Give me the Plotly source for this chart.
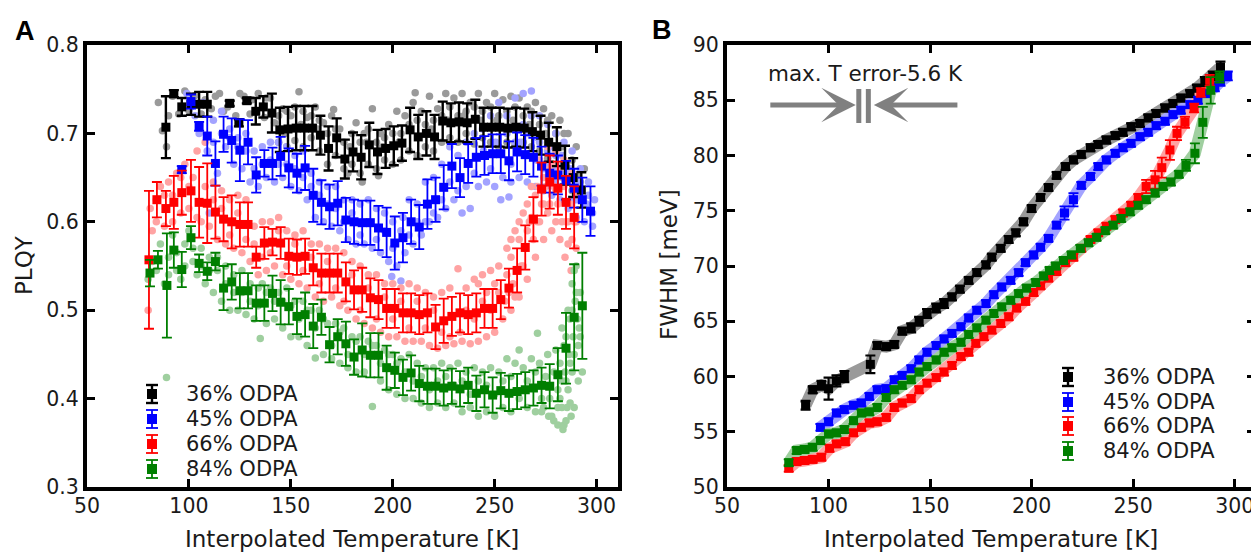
import plotly.graph_objects as go

# ---------------- Panel A : PLQY (binned means) ----------------
A36_T = [88.7, 92.6, 96.5, 101, 105, 109, 120, 124.5, 128.4, 132.8,
         136.5, 140.7, 144.6, 148.6, 152.6, 156.6, 160.6, 164.5, 168.5, 172.5,
         176.5, 180.5, 184.5, 188.5, 192.5, 196.5, 200.5, 204.5, 208.5, 212.5,
         216.5, 220.5, 224.5, 228.5, 232.5, 236.5, 240.5, 244.5, 248.5, 252.5,
         256.5, 260.5, 264.5, 268.5, 272.5, 276.5, 280.5, 284.5, 288.5, 292.5]
A36_y = [0.707, 0.745, 0.730, 0.733, 0.733, 0.733, 0.734, 0.712, 0.737, 0.725,
         0.730, 0.723, 0.704, 0.705, 0.706, 0.706, 0.706, 0.698, 0.683, 0.695,
         0.671, 0.679, 0.673, 0.687, 0.679, 0.683, 0.686, 0.689, 0.704, 0.696,
         0.700, 0.696, 0.714, 0.712, 0.713, 0.712, 0.716, 0.707, 0.707, 0.707,
         0.706, 0.707, 0.706, 0.702, 0.698, 0.690, 0.685, 0.664, 0.650, 0.636]
A36_e = [0.035, 0.004, 0.010, 0.012, 0.014, 0.014, 0.003, 0.004, 0.003, 0.015,
         0.012, 0.022, 0.025, 0.025, 0.025, 0.025, 0.025, 0.022, 0.025, 0.022,
         0.022, 0.022, 0.025, 0.025, 0.025, 0.022, 0.022, 0.020, 0.025, 0.025,
         0.025, 0.025, 0.022, 0.022, 0.022, 0.022, 0.022, 0.022, 0.022, 0.022,
         0.022, 0.022, 0.022, 0.022, 0.022, 0.022, 0.022, 0.022, 0.022, 0.020]

A45_T = [96.5, 101, 105, 109, 113, 117, 121, 125, 129, 133,
         137, 141, 145, 149, 153, 157, 161, 165, 169, 173,
         177, 181, 185, 189, 193, 197, 201, 205, 209, 213,
         217, 221, 225, 229, 233, 237, 241, 245, 249, 253,
         257, 261, 265, 269, 273, 277, 281, 285, 289, 293, 297]
A45_y = [0.659, 0.736, 0.708, 0.697, 0.666, 0.699, 0.692, 0.681, 0.690, 0.653,
         0.666, 0.666, 0.674, 0.661, 0.655, 0.661, 0.630, 0.622, 0.617, 0.621,
         0.602, 0.600, 0.599, 0.599, 0.593, 0.588, 0.576, 0.582, 0.600, 0.594,
         0.620, 0.625, 0.639, 0.663, 0.650, 0.666, 0.673, 0.675, 0.677, 0.677,
         0.669, 0.679, 0.676, 0.673, 0.663, 0.655, 0.653, 0.647, 0.638, 0.625, 0.612]
A45_e = [0.004, 0.008, 0.005, 0.022, 0.025, 0.020, 0.025, 0.035, 0.025, 0.020,
         0.015, 0.018, 0.022, 0.022, 0.022, 0.025, 0.030, 0.025, 0.025, 0.025,
         0.025, 0.025, 0.025, 0.025, 0.025, 0.028, 0.030, 0.028, 0.025, 0.025,
         0.028, 0.025, 0.025, 0.025, 0.022, 0.022, 0.022, 0.022, 0.022, 0.022,
         0.022, 0.022, 0.022, 0.022, 0.022, 0.022, 0.022, 0.022, 0.022, 0.025, 0.028]

A66_T = [80.4, 84.3, 88.7, 92.6, 96.5, 101, 105, 109, 113, 117,
         121, 125, 129, 133, 137, 141, 145, 149, 153, 157,
         161, 165, 169, 173, 177, 181, 185, 189, 193, 197,
         201, 205, 209, 213, 217, 221, 225, 229, 233, 237,
         241, 245, 249, 253, 257, 261, 265, 269, 273, 277,
         281, 285, 289]
A66_y = [0.557, 0.625, 0.615, 0.622, 0.633, 0.635, 0.622, 0.621, 0.611, 0.603,
         0.600, 0.597, 0.597, 0.560, 0.576, 0.577, 0.576, 0.561, 0.560, 0.561,
         0.548, 0.542, 0.542, 0.542, 0.532, 0.523, 0.523, 0.514, 0.512, 0.502,
         0.502, 0.497, 0.497, 0.495, 0.497, 0.481, 0.488, 0.493, 0.497, 0.495,
         0.497, 0.502, 0.502, 0.512, 0.525, 0.545, 0.571, 0.603, 0.637, 0.645,
         0.638, 0.622, 0.605]
A66_e = [0.078, 0.020, 0.020, 0.030, 0.025, 0.035, 0.040, 0.045, 0.030, 0.025,
         0.030, 0.025, 0.025, 0.012, 0.018, 0.015, 0.018, 0.020, 0.020, 0.020,
         0.020, 0.022, 0.022, 0.022, 0.022, 0.022, 0.025, 0.022, 0.022, 0.022,
         0.022, 0.022, 0.022, 0.022, 0.022, 0.025, 0.025, 0.022, 0.022, 0.022,
         0.022, 0.022, 0.022, 0.022, 0.022, 0.025, 0.025, 0.025, 0.030, 0.030,
         0.030, 0.030, 0.035]

A84_T = [80.9, 84.8, 89.2, 92.6, 96.5, 101, 105, 109, 113, 117,
         121, 125, 129, 133, 137, 141, 145, 149, 153, 157,
         161, 165, 169, 173, 177, 181, 185, 189, 193, 197,
         201, 205, 209, 213, 217, 221, 225, 229, 233, 237,
         241, 245, 249, 253, 257, 261, 265, 269, 273, 277,
         281, 285, 289, 293]
A84_y = [0.542, 0.557, 0.528, 0.568, 0.546, 0.582, 0.553, 0.544, 0.555, 0.525,
         0.532, 0.522, 0.522, 0.508, 0.508, 0.519, 0.509, 0.504, 0.493, 0.495,
         0.482, 0.492, 0.461, 0.470, 0.462, 0.447, 0.455, 0.449, 0.449, 0.435,
         0.432, 0.424, 0.429, 0.417, 0.414, 0.414, 0.412, 0.414, 0.411, 0.415,
         0.406, 0.410, 0.404, 0.409, 0.406, 0.408, 0.410, 0.412, 0.415, 0.414,
         0.427, 0.457, 0.492, 0.505]
A84_e = [0.015, 0.010, 0.059, 0.020, 0.020, 0.013, 0.010, 0.010, 0.010, 0.025,
         0.020, 0.020, 0.020, 0.020, 0.020, 0.020, 0.025, 0.020, 0.020, 0.025,
         0.025, 0.020, 0.020, 0.020, 0.025, 0.020, 0.030, 0.025, 0.025, 0.025,
         0.020, 0.020, 0.020, 0.020, 0.020, 0.020, 0.020, 0.020, 0.020, 0.020,
         0.020, 0.020, 0.020, 0.020, 0.020, 0.020, 0.020, 0.020, 0.020, 0.025,
         0.030, 0.040, 0.060, 0.060]

# ---------------- Panel A : raw (unbinned) points, (T, PLQY) ----------------
RAW36 = [(85,0.735),(87,0.703),(89,0.685),(90,0.72),(92,0.742),(95,0.722),(98,0.748),(100,0.726),
         (103,0.743),(106,0.722),(108,0.738),(111,0.728),(113,0.742),(115,0.745),(117,0.725),(119,0.73),
         (123,0.72),(125,0.745),(127,0.742),(130,0.722),(131,0.738),(134,0.745),(137,0.718),(138,0.74),
         (140,0.74),(142,0.712),(144,0.69),(146,0.728),(147,0.70),(148,0.685),(150,0.72),(152,0.692),
         (154,0.747),(155,0.71),(156,0.685),(158,0.718),(160,0.695),(162,0.73),(163,0.705),(164,0.68),
         (166,0.712),(168,0.665),(170,0.72),(171,0.727),(172,0.675),(174,0.705),(176,0.66),(178,0.655),
         (179,0.685),(180,0.665),(182,0.712),(184,0.655),(185,0.645),(186,0.70),(187,0.69),(188,0.665),
         (190,0.728),(192,0.66),(193,0.652),(194,0.70),(195,0.685),(196,0.67),(198,0.71),(200,0.665),
         (202,0.725),(203,0.69),(204,0.67),(206,0.72),(208,0.68),(210,0.735),(211,0.746),(212,0.675),
         (214,0.725),(216,0.685),(218,0.742),(219,0.705),(220,0.68),(222,0.728),(224,0.69),(226,0.745),
         (227,0.715),(228,0.695),(230,0.74),(232,0.69),(234,0.745),(235,0.72),(236,0.70),(238,0.735),
         (240,0.688),(242,0.745),(243,0.715),(244,0.695),(246,0.735),(248,0.69),(250,0.745),(251,0.715),
         (252,0.685),(254,0.738),(256,0.69),(258,0.742),(259,0.715),(260,0.688),(262,0.74),(264,0.69),
         (266,0.73),(267,0.71),(268,0.685),(270,0.735),(272,0.68),(274,0.728),(275,0.70),(276,0.672),
         (278,0.72),(280,0.665),(282,0.715),(283,0.685),(284,0.65),(286,0.70),(288,0.635),(290,0.685),
         (291,0.65),(292,0.625),(294,0.66),
         (232,0.72),(236,0.725),(240,0.73),(244,0.725),(248,0.73),(252,0.72),(256,0.725),(260,0.73),
         (264,0.72),(268,0.725),(272,0.71),(276,0.715),(280,0.70),(284,0.70),(288,0.67),(292,0.645),
         (228,0.73),(224,0.72),(220,0.715),(216,0.71),(212,0.715),(208,0.71),(204,0.70),(200,0.70),
         (196,0.695),(192,0.69),(188,0.705),(184,0.69),(180,0.70),(176,0.69),(172,0.705),(168,0.70),
         (164,0.715),(160,0.72),(156,0.725),(152,0.73),(148,0.725),(144,0.72)]
RAW45 = [(95,0.655),(99,0.745),(101,0.73),(103,0.72),(105,0.70),(107,0.735),(109,0.68),(110,0.61),
         (112,0.715),(114,0.655),(116,0.725),(118,0.685),(120,0.705),(122,0.665),(124,0.695),(126,0.66),
         (128,0.70),(130,0.645),(132,0.68),(134,0.64),(136,0.685),(138,0.65),(140,0.69),(142,0.645),
         (144,0.69),(146,0.65),(148,0.685),(150,0.64),(152,0.675),(154,0.635),(156,0.68),(158,0.625),
         (160,0.655),(162,0.605),(164,0.645),(166,0.60),(168,0.64),(170,0.595),(172,0.64),(174,0.59),
         (176,0.625),(178,0.58),(180,0.625),(182,0.575),(184,0.62),(186,0.575),(188,0.625),(190,0.57),
         (192,0.615),(194,0.565),(196,0.61),(198,0.555),(199.5,0.538),(200,0.60),(202,0.55),(204,0.533),
         (205,0.605),(206,0.565),(208,0.625),(210,0.575),(212,0.62),(214,0.585),(216,0.645),(218,0.60),
         (220,0.65),(222,0.605),(224,0.665),(226,0.615),(228,0.685),(230,0.625),(232,0.675),(234,0.61),
         (236,0.69),(238,0.615),(240,0.70),(242,0.64),(244,0.705),(244.5,0.68),(246,0.645),(248,0.72),
         (250,0.64),(250.5,0.69),(252,0.735),(253,0.625),(254,0.65),(256,0.72),(257,0.628),(258,0.645),
         (260,0.74),(262,0.65),(262.5,0.69),(264,0.745),(266,0.645),(266.5,0.70),(268,0.748),(270,0.64),
         (270.5,0.67),(271,0.695),(272,0.72),(274,0.635),(275,0.665),(276,0.71),(277,0.685),(278,0.63),
         (279,0.645),(280,0.70),(280.5,0.66),(282,0.625),(283,0.675),(284,0.69),(285,0.655),(286,0.615),
         (287,0.66),(288,0.68),(289,0.625),(290,0.605),(290.5,0.64),(291,0.645),(292,0.66),(294,0.60),
         (295,0.62),(296,0.645),(298,0.595),(299,0.625),
         (256,0.70),(260,0.69),(264,0.71),(268,0.72),(272,0.69),(276,0.68),(280,0.675),(284,0.665),
         (288,0.65),(292,0.64),(296,0.63),(258,0.665),(266,0.675),(274,0.66),(282,0.64),(290,0.625),
         (298,0.61),(248,0.66),(240,0.655),(236,0.64),(232,0.635),(228,0.645),(224,0.625),(220,0.61),
         (216,0.60),(212,0.60),(208,0.585),(204,0.59),(200,0.57),(196,0.59),(192,0.58),(188,0.60),
         (184,0.585),(180,0.61),(176,0.60),(172,0.615),(168,0.62),(164,0.63),(160,0.64),(156,0.65),
         (152,0.66),(148,0.665),(144,0.665),(140,0.67),(136,0.665),(132,0.66),(128,0.68),(124,0.685),
         (120,0.695),(116,0.70),(112,0.69)]
RAW66 = [(80,0.50),(82,0.59),(84,0.60),(86,0.64),(88,0.595),(90,0.645),(92,0.60),(94,0.655),
         (96,0.61),(98,0.665),(100,0.615),(102,0.65),(104,0.68),(106,0.60),(108,0.69),(110,0.595),
         (112,0.645),(114,0.58),(116,0.635),(118,0.575),(120,0.625),(122,0.57),(124,0.63),(126,0.565),
         (128,0.625),(130,0.555),(132,0.595),(134,0.54),(136,0.60),(138,0.545),(140,0.60),(142,0.55),
         (144,0.605),(146,0.54),(148,0.59),(150,0.535),(152,0.585),(154,0.53),(156,0.59),(158,0.525),
         (160,0.575),(162,0.515),(164,0.575),(166,0.51),(168,0.57),(170,0.515),(172,0.57),(174,0.505),
         (176,0.565),(178,0.50),(180,0.555),(182,0.49),(184,0.55),(186,0.485),(188,0.54),(190,0.48),
         (192,0.54),(194,0.475),(196,0.53),(198,0.47),(200,0.53),(202,0.47),(204,0.525),(206,0.465),
         (208,0.53),(210,0.465),(212,0.525),(214,0.465),(216,0.52),(218,0.46),(220,0.515),(222,0.457),
         (224,0.52),(226,0.46),(228,0.525),(230,0.462),(232,0.547),(234,0.465),(236,0.525),(238,0.462),
         (240,0.535),(242,0.465),(244,0.54),(246,0.47),(248,0.545),(250,0.475),(252,0.55),(254,0.49),
         (255,0.51),(256,0.57),(257,0.52),(258,0.50),(259,0.53),(260,0.59),(261,0.545),(262,0.515),
         (263,0.55),(264,0.61),(265,0.57),(266,0.535),(267,0.60),(268,0.64),(269,0.58),(270,0.56),
         (271,0.60),(272,0.67),(273,0.62),(274,0.58),(275,0.64),(276,0.685),(277,0.62),(278,0.59),
         (279,0.64),(280,0.68),(281,0.62),(282,0.58),(283,0.65),(284,0.67),(285,0.60),(286,0.575),
         (287,0.62),(288,0.655),(289,0.60),(290,0.57),(291,0.63),(287.5,0.545),(284.5,0.56),
         (256,0.54),(258,0.56),(260,0.515),(262,0.58),(264,0.55),(266,0.59),(268,0.605),(270,0.63),
         (272,0.60),(274,0.65),(276,0.61),(278,0.665),(280,0.635),(282,0.66),(284,0.64),(286,0.645),
         (288,0.58),(290,0.60),(286,0.60),(283,0.60),(280,0.60),(277,0.66),(274,0.62),(271,0.64),
         (266,0.62),(262,0.60),(258,0.58),(252,0.52),(250,0.53),(248,0.50),(246,0.52),(244,0.51),
         (242,0.53),(240,0.49),(236,0.50),(233,0.475),(228,0.47),(224,0.475),(220,0.50),(216,0.48),
         (212,0.51),(208,0.48),(204,0.51),(200,0.49),(196,0.515),(192,0.49),(188,0.525),(184,0.50),
         (180,0.54),(176,0.51),(172,0.525),(168,0.555),(164,0.53),(160,0.56),(156,0.545),(152,0.575),
         (148,0.55),(144,0.59),(140,0.565),(136,0.56),(132,0.575),(128,0.58),(124,0.61),(120,0.585),
         (116,0.615),(112,0.625),(108,0.64),(104,0.605),(100,0.64),(96,0.65),(92,0.63),(88,0.63),
         (84,0.625),(81,0.615)]
RAW84 = [(80,0.535),(82,0.555),(84,0.545),(86,0.575),(88,0.53),(89,0.424),(90,0.56),(92,0.585),
         (94,0.545),(96,0.535),(98,0.575),(100,0.59),(102,0.555),(104,0.54),(106,0.57),(108,0.53),
         (110,0.56),(112,0.52),(114,0.545),(116,0.51),(118,0.55),(120,0.50),(122,0.54),(124,0.50),
         (126,0.545),(128,0.495),(130,0.53),(132,0.49),(134,0.525),(135,0.468),(136,0.53),(138,0.485),
         (140,0.525),(142,0.49),(144,0.52),(146,0.48),(148,0.525),(150,0.47),(152,0.51),(154,0.47),
         (156,0.51),(158,0.46),(160,0.50),(162,0.446),(164,0.50),(166,0.45),(168,0.485),(170,0.445),
         (172,0.485),(174,0.44),(176,0.48),(178,0.435),(180,0.47),(182,0.43),(184,0.47),(186,0.43),
         (188,0.465),(190,0.391),(192,0.46),(194,0.42),(196,0.455),(198,0.41),(200,0.45),(202,0.405),
         (204,0.445),(206,0.40),(208,0.45),(210,0.40),(212,0.44),(214,0.395),(216,0.435),(218,0.39),
         (220,0.435),(222,0.395),(224,0.44),(226,0.39),(228,0.435),(230,0.395),(232,0.44),(234,0.385),
         (236,0.43),(238,0.39),(240,0.435),(242,0.38),(244,0.43),(246,0.385),(248,0.435),(250,0.38),
         (252,0.43),(254,0.39),(256,0.445),(258,0.385),(260,0.44),(262,0.455),(264,0.435),(266,0.39),
         (268,0.445),(270,0.385),(271,0.474),(272,0.44),(273,0.385),(274,0.39),(276,0.45),(276.5,0.38),
         (278,0.38),(279,0.375),(280,0.455),(281,0.37),(282,0.40),(283,0.48),(283.5,0.365),(284,0.37),
         (284.5,0.43),(285,0.42),(285.5,0.39),(286,0.50),(286.5,0.45),(287,0.44),(287.5,0.38),(288,0.53),
         (288.5,0.47),(289,0.39),(289.5,0.51),(290,0.55),(290.5,0.49),(291,0.46),(291.5,0.48),(292,0.52),
         (293,0.43),
         (281,0.41),(282,0.44),(283,0.42),(284,0.46),(285,0.47),(286,0.41),(287,0.49),(288,0.43),
         (289,0.45),(290,0.52),(291,0.42),(292,0.47),(289,0.545),(288,0.50),(287,0.395),(285,0.375),
         (283,0.39),(281,0.39),(279,0.43),(277,0.40),(275,0.425),(273,0.40),(270,0.43),(266,0.42),
         (262,0.40),(258,0.425),(254,0.42),(250,0.405),(246,0.415),(242,0.42),(238,0.405),(234,0.42),
         (230,0.415),(226,0.425),(222,0.42),(218,0.41),(214,0.425),(210,0.42),(206,0.43),(202,0.44),
         (198,0.45),(194,0.44),(190,0.46),(186,0.45),(182,0.465),(178,0.45),(174,0.475),(170,0.46),
         (166,0.49),(162,0.48),(158,0.50),(154,0.49),(150,0.505),(146,0.51),(142,0.51),(138,0.52),
         (134,0.505),(130,0.51),(126,0.52),(122,0.52),(118,0.53),(114,0.56),(110,0.545),(106,0.55),
         (102,0.57),(98,0.55),(94,0.565),(90,0.54)]

# ---------------- Panel B : FWHM (binned means) ----------------
B36_T = [88.7, 92.2, 96.5, 100, 103.9, 107.8, 120.6, 124, 128.4, 132.4,
         136.3, 140.7, 144.6, 148.5, 153, 156.9, 160.8, 164.7, 169, 173,
         177.5, 180.4, 184.8, 188.7, 192.2, 196, 200, 204.4, 208.3, 212.3,
         216.7, 220.6, 224.5, 229, 232.8, 236.8, 241.2, 245, 249, 253.4,
         257.4, 261.3, 265.7, 269.6, 273.5, 278, 281.4, 285.3, 289.2, 293]
B36_y = [57.4, 58.8, 59.2, 58.9, 59.6, 60.0, 61.1, 62.8, 62.7, 62.9,
         64.1, 64.4, 65.0, 65.7, 66.2, 66.6, 67.2, 67.9, 68.7, 69.4,
         70.1, 70.8, 71.6, 72.4, 73.0, 74.0, 75.2, 76.2, 77.1, 78.2,
         79.0, 79.6, 80.1, 80.7, 81.0, 81.4, 81.8, 82.1, 82.6, 82.9,
         83.4, 83.8, 84.3, 84.7, 85.2, 85.6, 86.1, 86.7, 87.2, 88.0]
B36_e = [0.4, 0.3, 0.4, 1.0, 0.5, 0.5, 0.8, 0.3, 0.3, 0.3,
         0.3, 0.4, 0.4, 0.4, 0.4, 0.4, 0.3, 0.3, 0.3, 0.3,
         0.3, 0.3, 0.3, 0.3, 0.3, 0.3, 0.3, 0.3, 0.3, 0.3,
         0.3, 0.3, 0.3, 0.3, 0.3, 0.3, 0.3, 0.3, 0.3, 0.3,
         0.3, 0.3, 0.3, 0.3, 0.3, 0.3, 0.3, 0.4, 0.4, 0.5]

B45_T = [96, 100, 103.9, 107.8, 112.3, 116.2, 120.1, 124, 128.4, 132.4,
         136.3, 140.7, 144.6, 148.5, 153, 156.9, 160.8, 165.2, 169, 173,
         177.5, 181.4, 185.3, 189.7, 193.6, 197, 201, 204.4, 208.3, 212.3,
         216.2, 220.6, 224.5, 229, 232.8, 236.8, 241.2, 245, 249, 253.4,
         257.4, 261.3, 265.7, 269.6, 273.5, 278, 281.9, 285.8, 290.2, 293, 296.6]
B45_y = [55.4, 55.9, 56.7, 57.0, 57.4, 57.6, 58.2, 58.8, 58.9, 59.7,
         60.1, 60.7, 61.5, 62.2, 62.8, 63.4, 63.9, 64.5, 65.3, 66.0,
         66.6, 67.4, 68.1, 68.7, 69.4, 70.3, 71.0, 71.7, 72.5, 73.7,
         74.8, 76.0, 77.3, 78.1, 79.0, 79.6, 80.2, 80.7, 81.1, 81.7,
         82.1, 82.7, 83.1, 83.7, 84.1, 84.6, 85.0, 85.6, 86.2, 86.7, 87.2]
B45_e = [0.3, 0.3, 0.3, 0.3, 0.3, 0.3, 0.3, 0.3, 0.3, 0.3,
         0.3, 0.3, 0.3, 0.3, 0.3, 0.3, 0.3, 0.3, 0.3, 0.3,
         0.3, 0.3, 0.3, 0.3, 0.3, 0.3, 0.3, 0.3, 0.3, 0.3,
         0.6, 0.6, 0.3, 0.3, 0.3, 0.3, 0.3, 0.3, 0.3, 0.3,
         0.3, 0.3, 0.3, 0.3, 0.3, 0.3, 0.3, 0.3, 0.4, 0.4, 0.4]

B66_T = [80.4, 84.3, 88.2, 92.2, 96.5, 100.5, 103.9, 108.3, 112.3, 116.2,
         120.1, 124, 128.4, 132.4, 136.3, 140.7, 144.6, 148.5, 153, 156.9,
         160.8, 165.2, 169, 172.5, 176.5, 180.4, 184.8, 188.7, 192.6, 197,
         201, 204.4, 208.3, 212.3, 216.7, 220.6, 224.5, 229, 232.8, 236.8,
         241.2, 245, 249, 252.5, 256.4, 260.8, 264.1, 268.1, 271.6, 275.5,
         280, 283.3, 287.7]
B66_y = [51.7, 52.3, 52.4, 52.5, 52.7, 53.5, 53.9, 54.1, 54.9, 55.4,
         55.8, 55.9, 56.3, 57.2, 57.6, 58.0, 58.8, 59.4, 59.9, 60.4,
         61.0, 61.8, 62.2, 63.0, 63.6, 64.2, 64.8, 65.4, 66.2, 66.8,
         67.6, 68.2, 68.9, 69.5, 70.3, 70.8, 71.6, 72.4, 73.0, 73.6,
         74.2, 74.8, 75.5, 76.2, 77.2, 77.8, 78.9, 80.5, 82.0, 83.0,
         84.3, 85.7, 86.8]
B66_e = [0.3, 0.3, 0.3, 0.3, 0.3, 0.3, 0.3, 0.3, 0.3, 0.3,
         0.3, 0.3, 0.3, 0.3, 0.3, 0.3, 0.3, 0.3, 0.3, 0.3,
         0.3, 0.3, 0.3, 0.3, 0.3, 0.3, 0.3, 0.3, 0.3, 0.3,
         0.3, 0.3, 0.3, 0.3, 0.3, 0.3, 0.3, 0.3, 0.3, 0.3,
         0.3, 0.3, 0.3, 0.3, 0.6, 0.8, 0.9, 0.9, 0.6, 0.5,
         0.4, 0.4, 0.5]

B84_T = [80.4, 84.3, 88.2, 92.2, 96, 100, 103.9, 107.8, 112.3, 116.2,
         120.1, 124, 128.4, 132.4, 136.3, 140.7, 144.6, 148.5, 153, 156.9,
         160.8, 165.2, 169, 173, 177.5, 181.4, 185.3, 189.7, 193.6, 197.5,
         202, 205.9, 208.8, 211.8, 215.7, 219.6, 224, 228, 232, 236.3,
         240.2, 244.1, 248.5, 252.5, 256.4, 260.8, 264.7, 268.6, 272.5, 276,
         280.4, 284.3, 288.2, 292.6]
B84_y = [52.2, 53.3, 53.4, 53.6, 54.2, 54.8, 54.9, 55.2, 56.0, 56.7,
         56.8, 57.2, 58.1, 58.8, 59.2, 59.7, 60.4, 60.9, 61.5, 62.2,
         62.6, 63.1, 63.8, 64.4, 65.1, 65.7, 66.3, 66.9, 67.5, 68.0,
         68.5, 69.1, 69.6, 70.0, 70.5, 71.0, 71.6, 72.1, 72.6, 73.2,
         73.7, 74.3, 74.9, 75.5, 76.0, 76.6, 77.2, 77.6, 78.3, 79.1,
         80.2, 83.0, 85.9, 87.1]
B84_e = [0.3, 0.3, 0.3, 0.3, 0.3, 0.3, 0.3, 0.3, 0.3, 0.3,
         0.3, 0.3, 0.3, 0.3, 0.3, 0.3, 0.3, 0.3, 0.3, 0.3,
         0.3, 0.3, 0.3, 0.3, 0.3, 0.3, 0.3, 0.3, 0.3, 0.3,
         0.3, 0.3, 0.3, 0.3, 0.3, 0.3, 0.3, 0.3, 0.3, 0.3,
         0.3, 0.3, 0.3, 0.3, 0.3, 0.3, 0.3, 0.3, 0.3, 0.5,
         0.9, 1.4, 1.2, 0.5]

LABELS = ["36% ODPA", "45% ODPA", "66% ODPA", "84% ODPA"]
X_TICKS = [50, 100, 150, 200, 250, 300]

for a, b in [(A36_T, A36_y), (A36_T, A36_e), (A45_T, A45_y), (A45_T, A45_e),
             (A66_T, A66_y), (A66_T, A66_e), (A84_T, A84_y), (A84_T, A84_e),
             (B36_T, B36_y), (B36_T, B36_e), (B45_T, B45_y), (B45_T, B45_e),
             (B66_T, B66_y), (B66_T, B66_e), (B84_T, B84_y), (B84_T, B84_e)]:
    assert len(a) == len(b), (len(a), len(b))

# ---------------- styling ----------------
DARK = ["#000000", "#0000ff", "#ff0000", "#007f00"]
LIGHT = ["#9a9a9a", "#a3a3ff", "#ffa3a3", "#9fcf9f"]
FONT = "DejaVu Sans"

# the page body adds an 8 px offset; the figure is sized so the window is filled exactly
OFF = 8
W, H = 1259 - OFF, 552 - OFF
ML, MR, MT, MB = 87 - OFF, 4, 45 - OFF, 65
PW, PH = W - ML - MR, H - MT - MB


def px(x):
    """window pixel x -> paper coordinate"""
    return (x - OFF - ML) / PW


def py(y):
    """window pixel y -> paper coordinate"""
    return (H - MB - (y - OFF)) / PH


fig = go.Figure()

# raw clouds, panel A
for pts, col in zip([RAW36, RAW45, RAW66, RAW84], LIGHT):
    fig.add_trace(go.Scatter(
        x=[p[0] for p in pts], y=[p[1] for p in pts], mode="markers",
        marker=dict(color=col, size=7.5, line=dict(width=0)),
        xaxis="x", yaxis="y", showlegend=False, hoverinfo="skip"))

# binned, panel A
for T, Y, E, col, lw in [(A36_T, A36_y, A36_e, DARK[0], 2.4), (A45_T, A45_y, A45_e, DARK[1], 1.8),
                         (A66_T, A66_y, A66_e, DARK[2], 1.8), (A84_T, A84_y, A84_e, DARK[3], 1.8)]:
    fig.add_trace(go.Scatter(
        x=T, y=Y, mode="markers",
        marker=dict(symbol="square", color=col, size=9, line=dict(width=0)),
        error_y=dict(type="data", array=E, color=col, thickness=lw, width=5),
        xaxis="x", yaxis="y", showlegend=False))

# faded bands, panel B
for T, Y, col in [(B36_T, B36_y, LIGHT[0]), (B45_T, B45_y, LIGHT[1]),
                  (B66_T, B66_y, LIGHT[2]), (B84_T, B84_y, LIGHT[3])]:
    fig.add_trace(go.Scatter(
        x=T, y=Y, mode="lines", line=dict(color=col, width=12),
        xaxis="x2", yaxis="y2", showlegend=False, hoverinfo="skip"))

# binned, panel B
for T, Y, E, col, lw in [(B36_T, B36_y, B36_e, DARK[0], 2.2), (B45_T, B45_y, B45_e, DARK[1], 1.8),
                         (B66_T, B66_y, B66_e, DARK[2], 1.8), (B84_T, B84_y, B84_e, DARK[3], 1.8)]:
    fig.add_trace(go.Scatter(
        x=T, y=Y, mode="markers",
        marker=dict(symbol="square", color=col, size=9, line=dict(width=0)),
        error_y=dict(type="data", array=E, color=col, thickness=lw, width=5),
        xaxis="x2", yaxis="y2", showlegend=False))

axis_common = dict(showline=True, linewidth=4, linecolor="black", mirror="ticks",
                   ticks="inside", ticklen=8, tickwidth=3, tickcolor="black",
                   showgrid=False, zeroline=False,
                   tickfont=dict(family=FONT, size=20.5, color="#1a1a1a"))

fig.update_layout(
    width=W, height=H, margin=dict(l=ML, r=MR, t=MT, b=MB, autoexpand=False),
    paper_bgcolor="white", plot_bgcolor="white", showlegend=False,
    xaxis=dict(domain=[0, px(618)], range=[50, 310.5], tickvals=X_TICKS, anchor="y",
               ticklabelstandoff=-3, **axis_common),
    yaxis=dict(domain=[0, 1], range=[0.3, 0.8], dtick=0.1, tickformat=".1f", anchor="x", **axis_common),
    xaxis2=dict(domain=[px(727), 1], range=[50, 310], tickvals=X_TICKS, anchor="y2",
                ticklabelstandoff=-3, **axis_common),
    yaxis2=dict(domain=[0, 1], range=[50, 90], dtick=5, anchor="x2", **axis_common),
)

ann = []
shapes = []
TITLE_FONT = dict(family=FONT, size=23, color="#1a1a1a")
# axis titles
for txt, x, y, ang in [("Interpolated Temperature [K]", 352, 539, 0),
                       ("Interpolated Temperature [K]", 991, 539, 0),
                       ("PLQY", 24, 265, -90), ("FWHM [meV]", 669, 265, -90)]:
    ann.append(dict(text=txt, x=px(x), y=py(y), xref="paper", yref="paper", textangle=ang,
                    xanchor="center", yanchor="middle", showarrow=False, font=TITLE_FONT))
# panel letters
for txt, x, y in [("<b>A</b>", 25, 31), ("<b>B</b>", 662, 30)]:
    ann.append(dict(text=txt, x=px(x), y=py(y), xref="paper", yref="paper", showarrow=False,
                    xanchor="center", yanchor="middle",
                    font=dict(family="Liberation Sans", size=27, color="black")))

# hand-made legends (marker with error bar + label)
for (kx, tx, rows) in [(152, 185, [394, 419, 444, 469]), (1068, 1102, [377, 402, 426, 451])]:
    for lab, col, ry in zip(LABELS, DARK, rows):
        lw = 2.4 if col == "#000000" else 1.8
        shapes.append(dict(type="line", xref="paper", yref="paper", x0=px(kx), x1=px(kx),
                           y0=py(ry - 9), y1=py(ry + 9), line=dict(color=col, width=lw)))
        for cy in (ry - 9, ry + 9):
            shapes.append(dict(type="line", xref="paper", yref="paper", x0=px(kx - 6), x1=px(kx + 6),
                               y0=py(cy), y1=py(cy), line=dict(color=col, width=lw)))
        shapes.append(dict(type="rect", xref="paper", yref="paper", x0=px(kx - 5), x1=px(kx + 5),
                           y0=py(ry + 5), y1=py(ry - 5), fillcolor=col, line=dict(width=0)))
        ann.append(dict(text=lab, x=px(tx), y=py(ry), xref="paper", yref="paper", xanchor="left",
                        yanchor="middle", showarrow=False, borderpad=0,
                        font=dict(family=FONT, size=21, color="#1a1a1a")))

# temperature-error marker in panel B
GREY = "#808080"
ann.append(dict(text="max. T error-5.6 K", x=118.1, y=87.45, xref="x2", yref="y2", showarrow=False,
                xanchor="center", yanchor="middle",
                font=dict(family=FONT, size=21.5, color="#1a1a1a")))
ann.append(dict(text="", x=113.4, y=84.57, ax=70.6, ay=84.57, xref="x2", yref="y2",
                axref="x2", ayref="y2", showarrow=True, arrowhead=3, arrowsize=1.15,
                arrowwidth=5, arrowcolor=GREY))
ann.append(dict(text="", x=122.3, y=84.57, ax=164.2, ay=84.57, xref="x2", yref="y2",
                axref="x2", ayref="y2", showarrow=True, arrowhead=3, arrowsize=1.15,
                arrowwidth=5, arrowcolor=GREY))
for bx in (114.9, 119.6):
    shapes.append(dict(type="line", xref="x2", yref="y2", x0=bx, x1=bx, y0=82.94, y1=86.02,
                       line=dict(color=GREY, width=5)))

fig.update_layout(annotations=ann, shapes=shapes)
fig.write_html("out.html")
